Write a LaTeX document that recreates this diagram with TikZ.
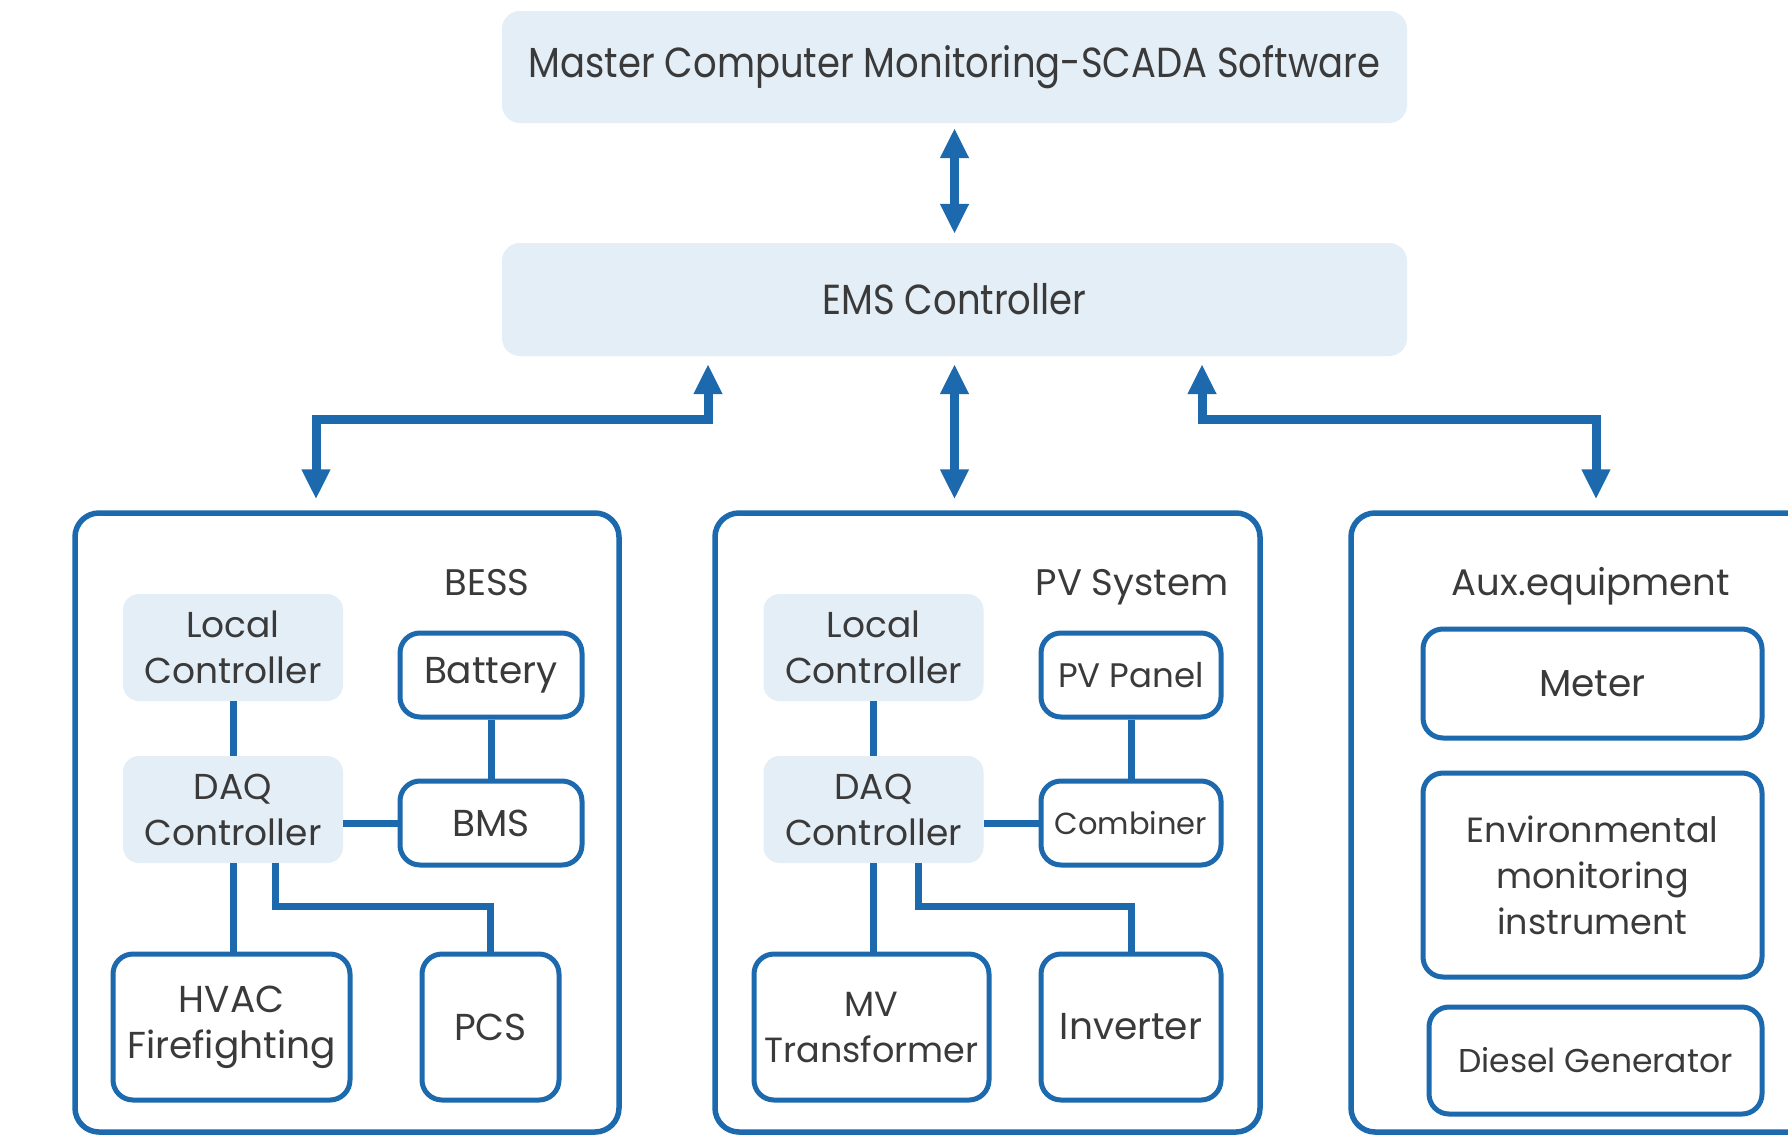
\documentclass[tikz,border=0pt]{standalone}
\usepackage{fontspec}
\setmainfont{Poppins}
\newfontfamily\condfont[FakeStretch=0.88]{Poppins}
\usetikzlibrary{arrows.meta,calc}
\definecolor{eblue}{HTML}{1C69AD}
\definecolor{efill}{HTML}{E4EEF7}
\definecolor{etext}{HTML}{3A3A3A}
\begin{document}
\begin{tikzpicture}[x=1pt,y=-1pt,
  topbox/.style={fill=efill, rounded corners=18pt, text=etext, inner sep=0pt,
    font=\condfont\fontsize{42}{48}\selectfont},
  ctrlbox/.style={fill=efill, rounded corners=16pt, text=etext, align=center, inner sep=0pt,
    minimum width=220pt, minimum height=107pt, font=\fontsize{36}{46}\selectfont},
  devbox/.style={draw=eblue, line width=5pt, fill=white, rounded corners=20pt, text=etext,
    align=center, inner sep=0pt, font=\fontsize{37.5}{46}\selectfont},
  fs/.style={font=\fontsize{#1}{46}\selectfont},
  groupbox/.style={draw=eblue, line width=5.5pt, rounded corners=24pt, inner sep=0pt},
  grouplabel/.style={text=etext, inner sep=0pt, anchor=base, font=\fontsize{37}{44}\selectfont},
  link/.style={draw=eblue, line width=7pt},
  dbl/.style={draw=eblue, line width=9pt,
    {Triangle[width=27pt,length=30pt]}-{Triangle[width=27pt,length=30pt]}}
]
\useasboundingbox[fill=white] (0,0) rectangle (1788,1135);

% top level
\node[topbox, minimum width=905pt, minimum height=112pt] (master) at (954.5,67) {Master Computer Monitoring-SCADA Software};
\node[topbox, minimum width=905pt, minimum height=113pt] (ems) at (954.5,299.5) {EMS Controller};

% group boxes
\node[groupbox, minimum width=544pt, minimum height=619pt] (bess) at (347,822.5) {};
\node[groupbox, minimum width=545pt, minimum height=619pt] (pv) at (987.5,822.5) {};
\node[groupbox, minimum width=545pt, minimum height=619pt] (aux) at (1623.5,822.5) {};

\node[grouplabel] (bessl) at (487,595) {BESS};
\node[grouplabel] (pvl) at (1132,595) {PV System};
\node[grouplabel] (auxl) at (1591,595) {Aux.equipment};

% BESS
\node[ctrlbox] (blc) at (233,647.5) {Local\\Controller};
\node[ctrlbox] (bdaq) at (233,809.5) {DAQ\\Controller};
\node[devbox, minimum width=182pt, minimum height=84pt] (bat) at (491,675) {Battery};
\node[devbox, minimum width=182pt, minimum height=84pt] (bms) at (491,823) {BMS};
\node[devbox, minimum width=237pt, minimum height=146pt] (hvac) at (231.5,1027) {HVAC\\Firefighting};
\node[devbox, minimum width=137pt, minimum height=146pt] (pcs) at (490.5,1027) {PCS};

% PV
\node[ctrlbox] (plc) at (873.5,647.5) {Local\\Controller};
\node[ctrlbox] (pdaq) at (873.5,809.5) {DAQ\\Controller};
\node[devbox, fs=34, minimum width=180pt, minimum height=84pt] (panel) at (1131,675) {PV Panel};
\node[devbox, fs=30.5, minimum width=180pt, minimum height=84pt] (comb) at (1131,823) {Combiner};
\node[devbox, fs=35, minimum width=235pt, minimum height=146pt] (mv) at (871.5,1027) {MV\\Transformer};
\node[devbox, minimum width=180pt, minimum height=146pt] (inv) at (1131,1027) {Inverter};

% Aux
\node[devbox, minimum width=339pt, minimum height=109pt] (meter) at (1592.5,683.5) {Meter};
\node[devbox, fs=35, minimum width=339pt, minimum height=204pt] (env) at (1592.5,875) {Environmental\\monitoring\\instrument};
\node[devbox, fs=33, minimum width=333pt, minimum height=107pt] (diesel) at (1595.5,1060.5) {Diesel Generator};

% arrows
\draw[dbl] ([yshift=-5pt]master.south) -- ([yshift=9pt]ems.north);
\draw[dbl] ([xshift=-246.5pt,yshift=-8pt]ems.south) -- ++(0,55) -| ([xshift=-31pt,yshift=11pt]bess.north);
\draw[dbl] ([yshift=-8pt]ems.south) -- ($(ems.south |- pv.north)+(0,-11)$);
\draw[dbl] ([xshift=247.5pt,yshift=-8pt]ems.south) -- ++(0,55) -| ([xshift=-27.5pt,yshift=11pt]aux.north);

% BESS links
\draw[link] (blc.south) -- (bdaq.north);
\draw[link] (bat.south) -- (bms.north);
\draw[link] (bms.west) -- (bms.west -| bdaq.east);
\draw[link] (bdaq.south) -- (bdaq.south |- hvac.north);
\draw[link] ([xshift=42pt]bdaq.south) |- ($(pcs.north)+(0,-45)$) -- (pcs.north);

% PV links
\draw[link] (plc.south) -- (pdaq.north);
\draw[link] (panel.south) -- (comb.north);
\draw[link] (comb.west) -- (comb.west -| pdaq.east);
\draw[link] (pdaq.south) -- (pdaq.south |- mv.north);
\draw[link] ([xshift=45pt]pdaq.south) |- ($(inv.north)+(0,-45)$) -- (inv.north);
\end{tikzpicture}
\end{document}
